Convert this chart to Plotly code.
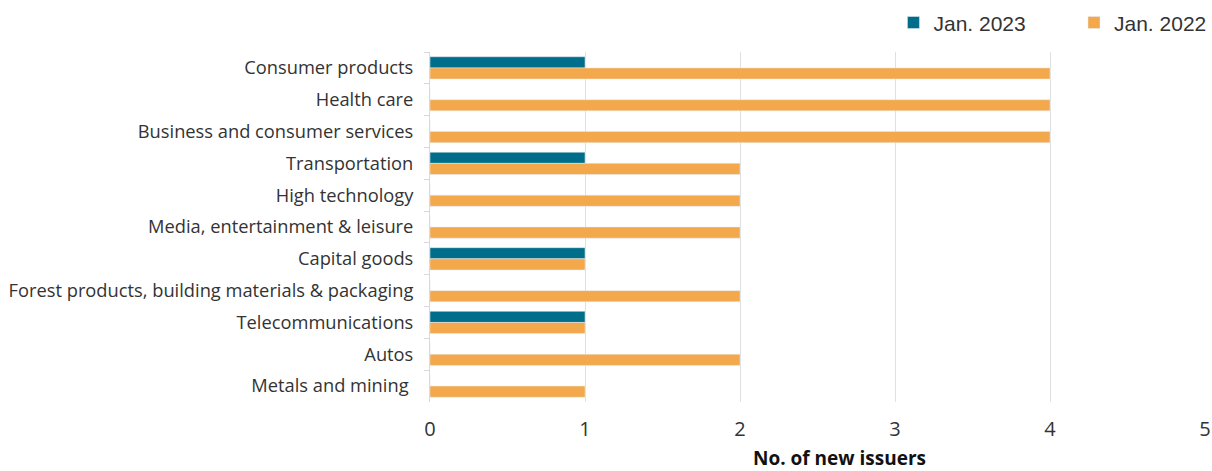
import plotly.graph_objects as go

categories = ["Consumer products", "Health care", "Business and consumer services",
              "Transportation", "High technology", "Media, entertainment & leisure",
              "Capital goods", "Forest products, building materials & packaging",
              "Telecommunications", "Autos", "Metals and mining "]
jan_2023 = [1, 0, 0, 1, 0, 0, 1, 0, 1, 0, 0]
jan_2022 = [4, 4, 4, 2, 2, 2, 1, 2, 1, 2, 1]
x_ticks = [0, 1, 2, 3, 4, 5]

fig = go.Figure()
fig.add_trace(go.Bar(y=categories, x=jan_2023, orientation="h", name="Jan. 2023",
                     marker_color="#006E8A", legend="legend", showlegend=True))
fig.add_trace(go.Bar(y=categories, x=jan_2022, orientation="h", name="Jan. 2022",
                     marker_color="#F2A84B", legend="legend2", showlegend=True))

legend_font = dict(family="Liberation Sans, Arial", size=21, color="#333333")

fig.update_layout(
    width=1212, height=471,
    showlegend=True,
    margin=dict(l=430, r=7, t=52, b=69),
    paper_bgcolor="white", plot_bgcolor="white",
    barmode="group", bargap=0.3, bargroupgap=0,
    font=dict(family="Open Sans, Arial, sans-serif", size=17, color="#333333"),
    legend=dict(visible=True, orientation="h", x=0.598, xanchor="left", y=0.995,
                yanchor="top", yref="container", itemwidth=30, font=legend_font),
    legend2=dict(visible=True, orientation="h", x=0.838, xanchor="left", y=0.995,
                 yanchor="top", yref="container", itemwidth=30, font=legend_font),
    xaxis=dict(range=[0, 5], tickvals=x_ticks, showgrid=True, gridcolor="#E0E0E0",
               gridwidth=1, zeroline=False, showline=False, automargin=False,
               tickfont=dict(size=20, color="#333333"), ticks="", ticklen=0,
               ticklabelstandoff=13),
    yaxis=dict(autorange="reversed", showline=True, linecolor="#D9D9D9", linewidth=1,
               ticks="outside", tickson="boundaries", ticklen=5, tickcolor="#D9D9D9",
               automargin=False,
               tickfont=dict(size=18.3, color="#333333"), ticklabelstandoff=12),
    annotations=[dict(text="<b>No. of new issuers</b>", xref="paper", yref="paper",
                      x=0.529, y=-0.161, xanchor="center", yanchor="middle",
                      showarrow=False, font=dict(size=19, color="#111111"))],
)

fig.write_html("out.html")
